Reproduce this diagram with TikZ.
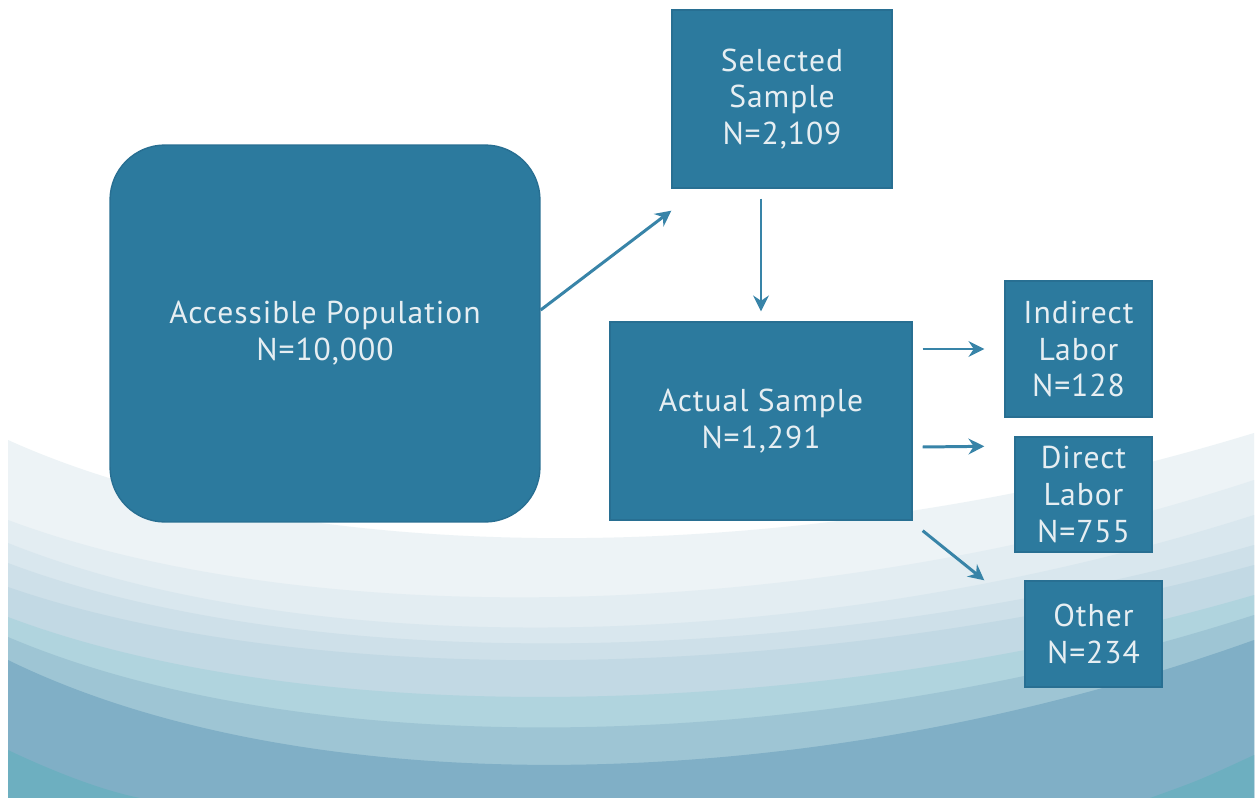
\documentclass[tikz,border=0pt]{standalone}
\usepackage{fontspec}
\setmainfont{PT Sans}[LetterSpace=3]
\usetikzlibrary{positioning, arrows.meta}
\definecolor{boxblue}{HTML}{2C7A9E}
\definecolor{boxedge}{HTML}{286F92}
\definecolor{boxtext}{HTML}{E6EEF2}
\definecolor{arrowblue}{HTML}{3884A8}
\definecolor{bandA}{HTML}{EDF3F6}
\definecolor{bandB}{HTML}{E3EDF2}
\definecolor{bandC}{HTML}{D9E7EE}
\definecolor{bandD}{HTML}{CEE0E9}
\definecolor{bandE}{HTML}{C2D9E4}
\definecolor{bandF}{HTML}{B0D4DE}
\definecolor{bandG}{HTML}{9EC5D4}
\definecolor{bandH}{HTML}{80AFC6}
\definecolor{bandI}{HTML}{6DAFC0}

\begin{document}
\begin{tikzpicture}[x=0.02cm,y=-0.02cm,
  box/.style={rectangle, fill=boxblue, draw=boxedge, line width=0.8pt, text=boxtext,
    align=center, inner sep=0pt, font=\fontsize{18}{21}\selectfont},
  arr/.style={draw=arrowblue, line width=1.7pt, -{Stealth[length=9pt, width=9pt, inset=3pt]}}]
\useasboundingbox (0,0) rectangle (1259,798);
\fill[white] (0,0) rectangle (1259,798);
% background waves
\foreach \c/\l/\m/\r in {bandA/440/572/433, bandB/520/629/480, bandC/543/660/515,
  bandD/563/673/545, bandE/587/688/565, bandF/617/727/595, bandG/637/761/615, bandH/660/803/640}
  \fill[\c] (8,\l) .. controls (300,\m) and (800,\m) .. (1254,\r) -- (1254,798) -- (8,798) -- cycle;
\fill[bandI] (8,750) .. controls (50,770) and (100,790) .. (140,798) -- (8,798) -- cycle;
\fill[bandI] (1150,798) .. controls (1200,780) .. (1254,755) -- (1254,798) -- cycle;
% boxes
\node[box, rounded corners=1.1cm, minimum width=8.6cm, minimum height=7.54cm] (pop) at (325,333.5)
  {Accessible Population\\N=10,000};
\node[box, minimum width=4.4cm, minimum height=3.56cm] (sel) at (782,99) {Selected\\Sample\\N=2,109};
\node[box, minimum width=6.04cm, minimum height=3.96cm] (act) at (761,421) {Actual Sample\\N=1,291};
\node[box, minimum width=2.94cm, minimum height=2.72cm] (ind) at (1078.5,349) {Indirect\\Labor\\N=128};
\node[box, minimum width=2.74cm, minimum height=2.3cm] (dir) at (1083.5,494.5) {Direct\\Labor\\N=755};
\node[box, minimum width=2.74cm, minimum height=2.12cm] (oth) at (1093.5,634) {Other\\N=234};
% arrows
\draw[arr] ([yshift=0.47cm]pop.east) -- ([yshift=-0.44cm]sel.south west);
\draw[arr, shorten <=0.2cm, shorten >=0.2cm] (sel.south -| act.north) -- (act.north);
\draw[arr] ([xshift=0.2cm]act.east |- ind.west) -- ([xshift=-0.4cm]ind.west);
\draw[arr] ([xshift=0.2cm, yshift=-0.52cm]act.east) -- ([xshift=-0.6cm, yshift=-0.2cm]dir.north west);
\draw[arr] ([xshift=0.2cm, yshift=-0.2cm]act.south east) -- ([xshift=-0.8cm]oth.north west);
\end{tikzpicture}
\end{document}
